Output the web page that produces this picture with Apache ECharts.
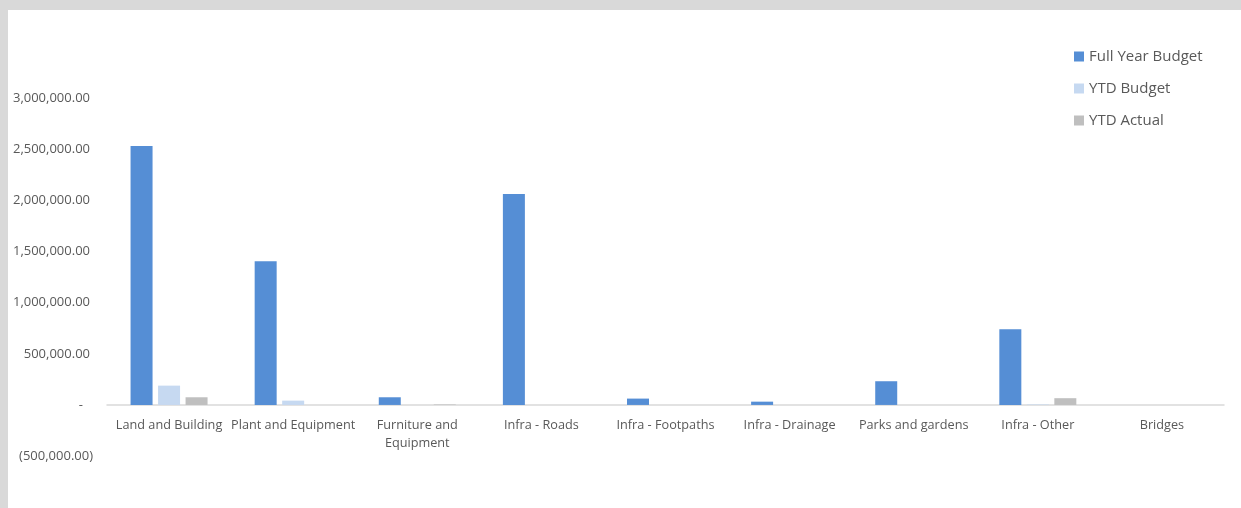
<!DOCTYPE html>
<html>
<head>
<meta charset="utf-8">
<script src="https://cdn.jsdelivr.net/npm/echarts@6/dist/echarts.min.js"></script>
<style>
html,body{margin:0;padding:0;background:#d9d9d9;width:1241px;height:508px;overflow:hidden;}
#chart{position:absolute;left:8px;top:10px;width:1233px;height:498px;background:#ffffff;}
</style>
</head>
<body>
<div id="chart"></div>
<script>
const categories = ['Land and Building','Plant and Equipment','Furniture and Equipment','Infra - Roads','Infra - Footpaths','Infra - Drainage','Parks and gardens','Infra - Other','Bridges'];
const fullYearBudget = [2535000, 1407000, 75000, 2065000, 62000, 32000, 232000, 742000, 0];
const ytdBudget = [189000, 42000, 0, 0, 0, 0, 0, 5000, 0];
const ytdActual = [75000, 0, 5000, 0, 0, 0, 0, 66000, 0];
const seriesNames = ['Full Year Budget','YTD Budget','YTD Actual'];
const yTicks = {min: -500000, max: 3000000, interval: 500000};

const font = "'Open Sans', 'Liberation Sans', sans-serif";
const txt = '#595959';
function fmt(v){
  const a = Math.abs(v).toLocaleString('en-US',{minimumFractionDigits:2, maximumFractionDigits:2});
  if (v === 0) return '{z|-}';
  if (v < 0) return '{n|(' + a + ')}';
  return '{p|' + a + '}';
}
const chart = echarts.init(document.getElementById('chart'));
const barStyle = {barWidth: 22, barGap: '25%'};
const gridBottom = 52;
const gridTop = 88.5;
const plotH = 498 - gridTop - gridBottom;
const zeroOffset = plotH * (0 - yTicks.min) / (yTicks.max - yTicks.min);
chart.setOption({
  animation: false,
  grid: {left: 99, right: 17, top: gridTop, bottom: gridBottom},
  legend: {
    orient: 'vertical', left: 1061, top: 34,
    itemWidth: 10, itemHeight: 10, itemGap: 17,
    icon: 'rect',
    textStyle: {fontFamily: font, fontSize: 15, color: txt}
  },
  xAxis: {
    type: 'category', data: categories,
    offset: -zeroOffset,
    axisLine: {onZero: false, lineStyle: {color: '#d9d9d9', width: 1.5}},
    axisTick: {show: false},
    axisLabel: {
      interval: 0, margin: 11, fontFamily: font, fontSize: 12.7, color: txt, lineHeight: 18,
      formatter: v => v === 'Furniture and Equipment' ? 'Furniture and\nEquipment' : v
    }
  },
  yAxis: {
    type: 'value', min: yTicks.min, max: yTicks.max, interval: yTicks.interval,
    axisLine: {show: false}, axisTick: {show: false},
    splitLine: {show: false},
    axisLabel: {
      margin: 14, fontFamily: font, fontSize: 13, color: txt,
      formatter: fmt,
      rich: {
        p: {fontFamily: font, fontSize: 13, color: txt, padding: [0, 3, 0, 0]},
        n: {fontFamily: font, fontSize: 13, color: txt},
        z: {fontFamily: font, fontSize: 13, color: txt, padding: [0, 10, 0, 0]}
      }
    }
  },
  series: [
    Object.assign({name: seriesNames[0], type: 'bar', data: fullYearBudget, itemStyle: {color: '#558ed5'}}, barStyle),
    Object.assign({name: seriesNames[1], type: 'bar', data: ytdBudget, itemStyle: {color: '#c6d9f1'}}, barStyle),
    Object.assign({name: seriesNames[2], type: 'bar', data: ytdActual, itemStyle: {color: '#bfbfbf'}}, barStyle)
  ]
});
</script>
</body>
</html>
